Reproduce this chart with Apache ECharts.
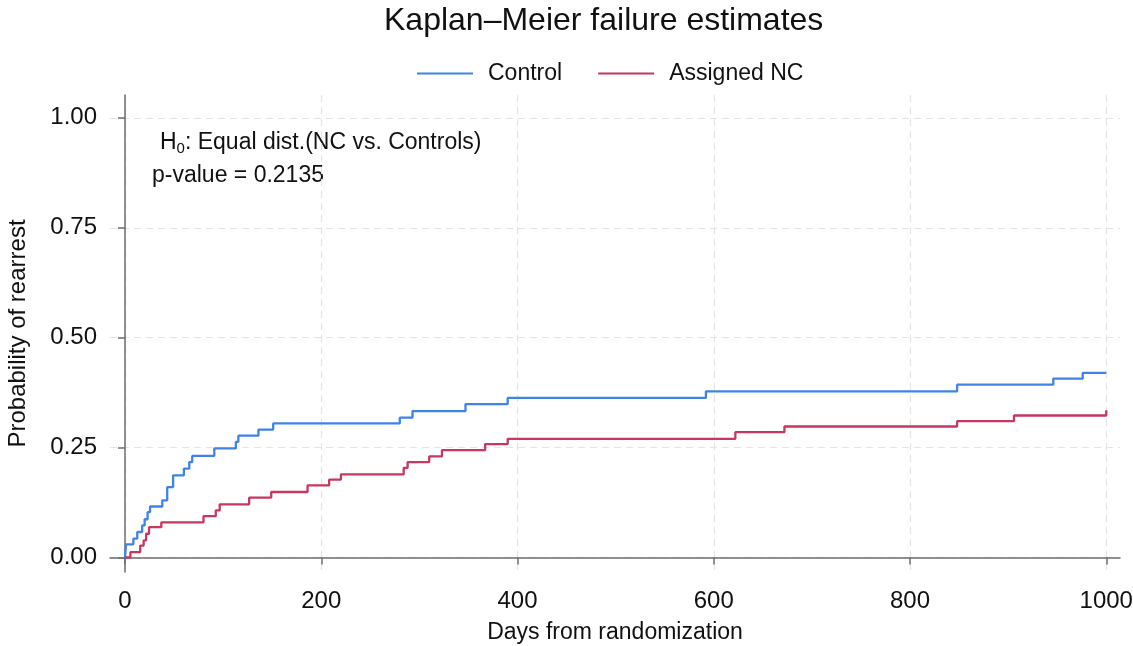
<!DOCTYPE html>
<html>
<head>
<meta charset="utf-8">
<script src="https://cdn.jsdelivr.net/npm/echarts@6/dist/echarts.min.js"></script>
<style>
  html, body { margin: 0; padding: 0; background: #fff; }
  #chart { width: 1133px; height: 646px; }
</style>
</head>
<body>
<div id="chart"></div>
<script>
// Kaplan-Meier failure steps: [days, cumulative failure]
const controlSteps = [
    [0, 0], [1, 0.03], [8.5, 0.043], [12.5, 0.058], [17.5, 0.073], [20, 0.087],
    [23, 0.103], [25.5, 0.116], [38, 0.130], [43, 0.160], [49, 0.187], [60, 0.202],
    [65.5, 0.217], [68.5, 0.231], [91, 0.248], [113, 0.263], [115.5, 0.277],
    [136, 0.291], [151, 0.305], [280, 0.318], [293, 0.333], [347, 0.349],
    [390, 0.363], [592, 0.378], [848, 0.393], [946, 0.407], [976, 0.420], [1000, 0.420]
];
const assignedSteps = [
    [0, 0], [5.5, 0.012], [15.5, 0.027], [19, 0.039], [21.5, 0.054], [24.5, 0.069],
    [37, 0.080], [80, 0.094], [92.5, 0.107], [96.5, 0.121], [126.5, 0.136],
    [149, 0.149], [186, 0.164], [208, 0.177], [220, 0.189], [284, 0.204],
    [288, 0.217], [310, 0.230], [323, 0.244], [367, 0.258], [390, 0.270],
    [622, 0.285], [672, 0.298], [848, 0.310], [906, 0.323], [1000, 0.335]
];
const seriesNames = ['Control', 'Assigned NC'];
const xTicks = [0, 200, 400, 600, 800, 1000];
const yTicks = [0, 0.25, 0.5, 0.75, 1];

const font = 'Liberation Sans, Arial, Helvetica, sans-serif';
const chart = echarts.init(document.getElementById('chart'));

const option = {
    backgroundColor: '#fff',
    animation: false,
    textStyle: { fontFamily: font },
    title: {
        text: 'Kaplan\u2013Meier failure estimates',
        left: 379,
        top: 0,
        textStyle: { fontSize: 32, fontWeight: 'normal', color: '#111', fontFamily: font }
    },
    legend: {
        data: seriesNames,
        left: 412,
        top: 57,
        icon: 'rect',
        itemWidth: 56,
        itemHeight: 2,
        itemGap: 36,
        textStyle: { fontSize: 23, color: '#111', padding: [0, 0, 0, 10] }
    },
    grid: { left: 110, right: 13, top: 95, bottom: 74, outerBoundsMode: 'none' },
    xAxis: {
        type: 'value',
        min: -15.3,
        max: 1014,
        name: 'Days from randomization',
        nameLocation: 'middle',
        nameGap: 49,
        nameTextStyle: { fontSize: 23, color: '#111' },
        axisLine: { lineStyle: { color: '#6e6e6e', width: 1.5 } },
        axisTick: { customValues: xTicks, length: 7, lineStyle: { color: '#6e6e6e', width: 1.5 } },
        axisLabel: { customValues: xTicks, fontSize: 24, color: '#111', margin: 17, formatter: v => String(v) },
        splitLine: { show: true, lineStyle: { color: '#e4e4e4', type: [7, 5], width: 1.2 } }
    },
    yAxis: {
        type: 'value',
        min: -0.033,
        max: 1.052,
        name: 'Probability of rearrest',
        nameLocation: 'middle',
        nameGap: 80,
        nameTextStyle: { fontSize: 24, color: '#111' },
        axisLine: { show: true, lineStyle: { color: '#6e6e6e', width: 1.5 } },
        axisTick: { show: true, customValues: yTicks, length: 7, lineStyle: { color: '#6e6e6e', width: 1.5 } },
        axisLabel: {
            customValues: yTicks, fontSize: 24, color: '#111', margin: 13,
            formatter: v => v.toFixed(2)
        },
        splitLine: { show: true, lineStyle: { color: '#e4e4e4', type: [7, 5], width: 1.2 } }
    },
    graphic: [
        {
            type: 'text', left: 160, top: 131,
            style: {
                text: '{a|H}{s|0}{a|: Equal dist.(NC vs. Controls)}',
                rich: {
                    a: { fontSize: 23, fontFamily: font, fill: '#111', lineHeight: 28 },
                    s: { fontSize: 15, fontFamily: font, fill: '#111', lineHeight: 14, verticalAlign: 'bottom' }
                }
            }
        },
        {
            type: 'text', left: 152, top: 164,
            style: { text: 'p-value = 0.2135', fontSize: 23, fontFamily: font, fill: '#111' }
        }
    ],
    series: [
        {
            name: seriesNames[0], type: 'line', step: 'end', symbol: 'none',
            data: controlSteps,
            itemStyle: { color: '#3f83ea' },
            lineStyle: { color: '#3f83ea', width: 2.3 }
        },
        {
            name: seriesNames[1], type: 'line', step: 'end', symbol: 'none',
            data: assignedSteps,
            itemStyle: { color: '#c8375f' },
            lineStyle: { color: '#c8375f', width: 2.3 }
        }
    ]
};

chart.setOption(option);
</script>
</body>
</html>
